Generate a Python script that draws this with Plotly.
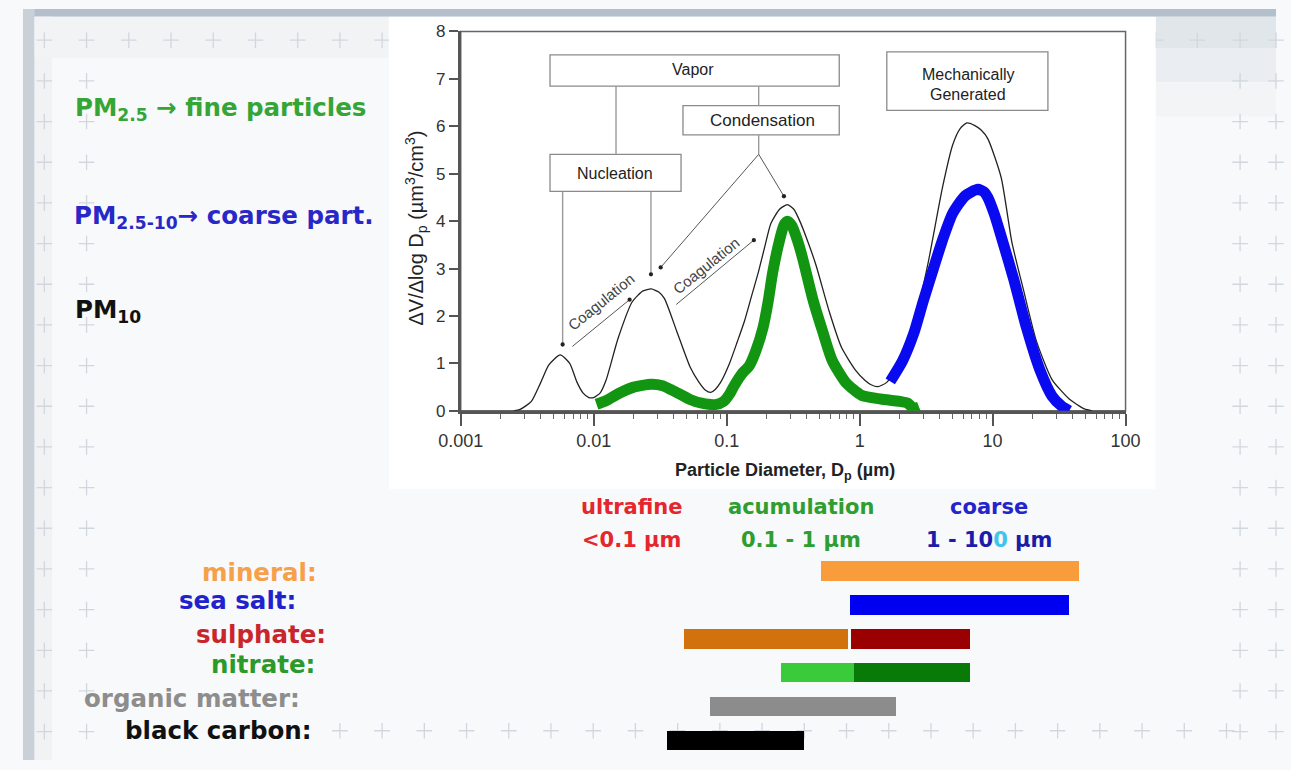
import math
import plotly.graph_objects as go

W, H = 1291, 770

# ---------------- data ----------------
# total PM10 volume distribution (thin black curve)
dp_total = [0.0025, 0.0028, 0.0034, 0.004, 0.0046, 0.0056, 0.0066, 0.0075, 0.0083, 0.0092,
            0.01, 0.0112, 0.0124, 0.0153, 0.0195, 0.0235, 0.0271, 0.031, 0.034, 0.042,
            0.053, 0.062, 0.069, 0.076, 0.082, 0.09, 0.105, 0.12, 0.136, 0.155,
            0.173, 0.195, 0.215, 0.25, 0.286, 0.32, 0.355, 0.41, 0.47, 0.59,
            0.73, 0.93, 1.1, 1.22, 1.37, 1.6, 1.9, 2.3, 2.68, 3.28,
            4.2, 5.0, 5.7, 6.4, 7.3, 8.2, 9.2, 11.6, 14, 17,
            21.3, 28, 37.7, 49, 56]
dv_total = [0.0, 0.03, 0.2, 0.6, 0.97, 1.18, 1.0, 0.6, 0.38, 0.28,
            0.28, 0.38, 0.65, 1.54, 2.3, 2.53, 2.57, 2.5, 2.37, 1.69,
            0.93, 0.6, 0.44, 0.39, 0.45, 0.6, 1.0, 1.45, 1.89, 2.45,
            2.92, 3.5, 3.95, 4.25, 4.35, 4.25, 4.0, 3.55, 3.07, 2.1,
            1.34, 0.86, 0.64, 0.55, 0.51, 0.6, 0.93, 1.45, 2.04, 3.13,
            4.71, 5.6, 5.95, 6.07, 6.02, 5.92, 5.74, 4.92, 3.54, 2.57,
            1.48, 0.66, 0.25, 0.04, 0.0]

# PM2.5 fraction (thick green curve)
dp_fine = [0.0105, 0.0125, 0.0153, 0.02, 0.027, 0.033, 0.038, 0.046, 0.053, 0.065,
           0.082, 0.095, 0.105, 0.115, 0.13, 0.148, 0.165, 0.1875, 0.205, 0.222,
           0.25, 0.27, 0.286, 0.31, 0.34, 0.374, 0.443, 0.525, 0.62, 0.785,
           1.03, 1.44, 2.0, 2.3, 2.55, 2.8]
dv_fine = [0.14, 0.22, 0.36, 0.5, 0.56, 0.53, 0.45, 0.33, 0.24, 0.16,
           0.13, 0.2, 0.35, 0.55, 0.78, 0.95, 1.25, 1.75, 2.3, 2.92,
           3.6, 3.92, 4.0, 3.9, 3.6, 3.2, 2.37, 1.69, 1.07, 0.6,
           0.33, 0.25, 0.2, 0.16, 0.05, 0.08]

# PM2.5-10 fraction (thick blue curve)
dp_coarse = [1.7, 2.1, 2.55, 3.0, 3.57, 4.2, 5.0, 6.2, 7.75, 8.6,
             9.2, 10.3, 11.6, 14.4, 18, 22.7, 28, 33, 37.7]
dv_coarse = [0.62, 1.05, 1.63, 2.3, 2.98, 3.6, 4.16, 4.53, 4.67, 4.62,
             4.5, 4.15, 3.68, 2.78, 1.75, 0.86, 0.31, 0.1, 0.0]

y_tick_vals = [0, 1, 2, 3, 4, 5, 6, 7, 8]
x_tick_vals = [0.001, 0.01, 0.1, 1, 10, 100]
x_tick_text = ["0.001", "0.01", "0.1", "1", "10", "100"]
x_minor_vals = [m * 10 ** e for e in range(-3, 2) for m in (2, 3, 4, 5, 6, 7, 8, 9)]

# size ranges of aerosol components (µm)
components = ["mineral:", "sea salt:", "sulphate:", "nitrate:", "organic matter:", "black carbon:"]
seg_component = ["mineral:", "sea salt:", "sulphate:", "sulphate:", "nitrate:", "nitrate:",
                 "organic matter:", "black carbon:"]
seg_from = [0.5, 0.8, 0.054, 0.82, 0.26, 0.85, 0.083, 0.041]
seg_to = [33, 28, 0.78, 5.6, 0.85, 5.6, 1.7, 0.38]
mode_bounds = [0.1, 1]
mode_names = ["ultrafine", "acumulation", "coarse"]
mode_ranges = ["&lt;0.1 µm", "0.1 - 1 µm", "1 - 10<span style='color:#40c4ee'>0</span> µm"]

# ---------------- styles ----------------
seg_colors = ["#f89c3c", "#0000f0", "#d2720c", "#9a0000", "#3acb3a", "#077a07", "#8c8c8c", "#000000"]
comp_colors = ["#f6a04a", "#2222cc", "#c8262c", "#2a9a2a", "#8d8d8d", "#111111"]
comp_label_right = [305, 283, 314, 303, 287, 300]
comp_label_y = [578, 606, 641, 672, 707, 740]
mode_name_colors = ["#e5262c", "#2e9e2e", "#2424cc"]
mode_range_colors = ["#e5262c", "#2e9e2e", "#1c1caa"]
mode_x = [627, 802, 995]

SLIDE_FONT = "DejaVu Sans"
CHART_FONT = "Liberation Sans"


def px(x):
    return x / W


def py(y):
    return 1 - y / H


shapes = []


def prect(x0, y0, x1, y1, fill, line=None, lw=0, layer="below"):
    d = dict(type="rect", xref="paper", yref="paper", x0=px(x0), x1=px(x1), y0=py(y1), y1=py(y0),
             fillcolor=fill, layer=layer, line=dict(width=lw, color=line or fill))
    shapes.append(d)


def pline(x0, y0, x1, y1, color="#999", w=1.2, layer="above", dash=None):
    ln = dict(color=color, width=w)
    if dash:
        ln["dash"] = dash
    shapes.append(dict(type="line", xref="paper", yref="paper", x0=px(x0), y0=py(y0),
                       x1=px(x1), y1=py(y1), line=ln, layer=layer))


def pdot(x, y, r=2.2):
    shapes.append(dict(type="circle", xref="paper", yref="paper", x0=px(x - r), x1=px(x + r),
                       y0=py(y + r), y1=py(y - r), fillcolor="#222", line=dict(width=0), layer="above"))


# ---- slide background ----
prect(0, 0, W, 8, "#b3bfcb")
prect(0, 0, 12, H, "#c9d0d7")
prect(12, 8, 30, H, "#f0f2f4")
prect(12, 8, 377, 50, "#f1f3f5")
prect(1167, 8, W, 40, "#e1e6eb")
prect(1167, 40, W, 75, "#eaedf1")
prect(1167, 75, W, 110, "#f2f4f6")

# decorative plus grid of the slide template
plus_pts = []
rows = [32 + 41.7 * j for j in range(18)]
for y in rows:
    for x in (22, 65.5, 1254, 1291):
        plus_pts.append((x, y))
for i in range(2, 9):
    plus_pts.append((22 + 43.5 * i, 32))
for x in (1167, 1210):
    plus_pts.append((x, 32))
for i in range(7, 29):
    plus_pts.append((22 + 43.5 * i, 740))
a = 8
path = ""
for (x, y) in plus_pts:
    path += (f"M{px(x - a):.5f},{py(y):.5f}L{px(x + a):.5f},{py(y):.5f}"
             f"M{px(x):.5f},{py(y - a):.5f}L{px(x):.5f},{py(y + a):.5f}")
shapes.append(dict(type="path", xref="paper", yref="paper", path=path,
                   line=dict(color="#d2d7dd", width=1.3), layer="below"))

# white picture of the chart
prect(377, 8, 1167, 492, "#ffffff")

# thin frame (top / right) of the chart
shapes.append(dict(type="rect", xref="x domain", yref="y domain", x0=0, x1=1, y0=0, y1=1,
                   line=dict(color="#666", width=1.5), layer="below"))

# ---- schematic boxes and arrows ----
box_line = "#8a8a8a"
prect(543, 47, 841, 79, "#ffffff", box_line, 1.3, "above")      # Vapor
prect(680, 99, 841, 129, "#ffffff", box_line, 1.3, "above")     # Condensation
prect(543, 149, 678, 187, "#ffffff", box_line, 1.3, "above")    # Nucleation
prect(890, 44, 1056, 104, "#ffffff", box_line, 1.3, "above")    # Mechanically generated

pline(611, 79, 611, 149, "#9a9a9a", 1.4)
pline(758, 79, 758, 99, "#9a9a9a", 1.4)
pline(758, 129, 758, 149, "#9a9a9a", 1.4)
pline(758, 149, 784, 192, "#555", 1.0)
pline(758, 149, 657, 265, "#555", 1.0)
pline(556, 187, 556, 344, "#9a9a9a", 1.4)
pline(647, 187, 647, 272, "#9a9a9a", 1.4)
pline(566, 346, 625, 298, "#555", 1.0)
pline(673, 303, 753, 237, "#555", 1.0)
for (x, y) in [(784, 192), (657, 265), (556, 344), (647, 272), (625, 298), (753, 237)]:
    pdot(x, y)

# dashed separators of the size modes (bar panel)
for b in mode_bounds:
    shapes.append(dict(type="line", xref="x2", yref="paper", x0=math.log10(b), x1=math.log10(b),
                       y0=0, y1=py(562), line=dict(color="#6e6e6e", width=3.5, dash="11px,6px"),
                       layer="above"))

# ---------------- traces ----------------
fig = go.Figure()
fig.add_trace(go.Scatter(x=dp_total, y=dv_total, mode="lines", name="PM10",
                         line=dict(color="#222222", width=1.3, shape="spline", smoothing=0.6),
                         showlegend=False, hoverinfo="skip"))
fig.add_trace(go.Scatter(x=dp_fine, y=dv_fine, mode="lines", name="PM2.5",
                         line=dict(color="#129612", width=11, shape="spline", smoothing=0.6),
                         showlegend=False))
fig.add_trace(go.Scatter(x=dp_coarse, y=dv_coarse, mode="lines", name="PM2.5-10",
                         line=dict(color="#0a0af0", width=11, shape="spline", smoothing=0.6),
                         showlegend=False))

fig.add_trace(go.Bar(y=seg_component, x=[t - f for f, t in zip(seg_from, seg_to)], base=seg_from,
                     orientation="h", xaxis="x2", yaxis="y2", width=0.57,
                     marker=dict(color=seg_colors, line=dict(width=0)), showlegend=False))

# ---------------- annotations ----------------
ann = []


def ptext(x, y, text, size, color, family=CHART_FONT, xanchor="center", weight="normal", angle=0):
    ann.append(dict(xref="paper", yref="paper", x=px(x), y=py(y), text=text, showarrow=False,
                    xanchor=xanchor, yanchor="middle", textangle=angle,
                    font=dict(family=family, size=size, color=color, weight=weight)))


# slide texts
ptext(52, 103, "PM<sub>2.5</sub> → fine particles", 24.5, "#35a535", SLIDE_FONT, "left", "bold")
ptext(50, 213, "PM<sub>2.5-10</sub>→ coarse part.", 24.5, "#2828c8", SLIDE_FONT, "left", "bold")
ptext(52, 310, "PM<sub>10</sub>", 24.5, "#111111", SLIDE_FONT, "left", "bold")

for name, rng, cx, c1, c2 in zip(mode_names, mode_ranges, mode_x, mode_name_colors, mode_range_colors):
    ptext(cx, 511, name, 21, c1, SLIDE_FONT, "center", "bold")
    ptext(cx, 544, rng, 21, c2, SLIDE_FONT, "center", "bold")

for comp, col, xr, yc in zip(components, comp_colors, comp_label_right, comp_label_y):
    ptext(xr, yc, comp, 24.5, col, SLIDE_FONT, "right", "bold")

# chart texts
ptext(690, 62, "Vapor", 16, "#222")
ptext(762, 114, "Condensation", 17, "#222")
ptext(610, 169, "Nucleation", 16, "#222")
ptext(974, 67, "Mechanically", 16, "#222")
ptext(974, 88, "Generated", 16, "#222")
ptext(596, 300, "Coagulation", 15, "#444", angle=-39)
ptext(704, 263, "Coagulation", 15, "#444", angle=-39)
ptext(785, 474, "Particle Diameter, D<sub>p</sub> (µm)", 18, "#222", weight="bold")
ptext(405, 225, "ΔV/Δlog D<sub>p</sub> (µm<sup>3</sup>/cm<sup>3</sup>)", 20, "#222", angle=-90)

# ---------------- layout ----------------
lo2 = -1 - 720 / 146
hi2 = -1 + (W - 720) / 146
top_bar, bot_bar = 558.6, 558.6 + 6 * 34.8

fig.update_layout(
    width=W, height=H, autosize=False,
    margin=dict(l=0, r=0, t=0, b=0),
    paper_bgcolor="#f8f9fa", plot_bgcolor="rgba(0,0,0,0)",
    barmode="overlay", bargap=0,
    shapes=shapes, annotations=ann,
    xaxis=dict(type="log", range=[-3, 2], domain=[px(451), px(1136)], anchor="y",
               showgrid=False, zeroline=False, showline=True, linewidth=2.5, linecolor="#555",
               ticks="outside", ticklen=12, tickwidth=1.5, tickcolor="#555",
               tickmode="array", tickvals=x_tick_vals, ticktext=x_tick_text,
               tickfont=dict(family=CHART_FONT, size=18, color="#333"),
               minor=dict(tickmode="array", tickvals=x_minor_vals, ticks="outside",
                          ticklen=5, tickwidth=1.2, tickcolor="#666")),
    yaxis=dict(range=[0, 8], domain=[py(412), py(23)], anchor="x",
               showgrid=False, zeroline=False, showline=True, linewidth=2.5, linecolor="#555",
               ticks="outside", ticklen=9, tickwidth=1.5, tickcolor="#555",
               tickmode="array", tickvals=y_tick_vals,
               tickfont=dict(family=CHART_FONT, size=17, color="#333")),
    xaxis2=dict(type="log", range=[lo2, hi2], domain=[0, 1], anchor="y2", visible=False),
    yaxis2=dict(type="category", categoryorder="array", categoryarray=components,
                range=[5.5, -0.5], domain=[py(bot_bar), py(top_bar)], anchor="x2", visible=False),
)

fig.write_html("out.html", config={"displayModeBar": False},
               post_script="document.body.style.margin='0';document.body.style.overflow='hidden';")
